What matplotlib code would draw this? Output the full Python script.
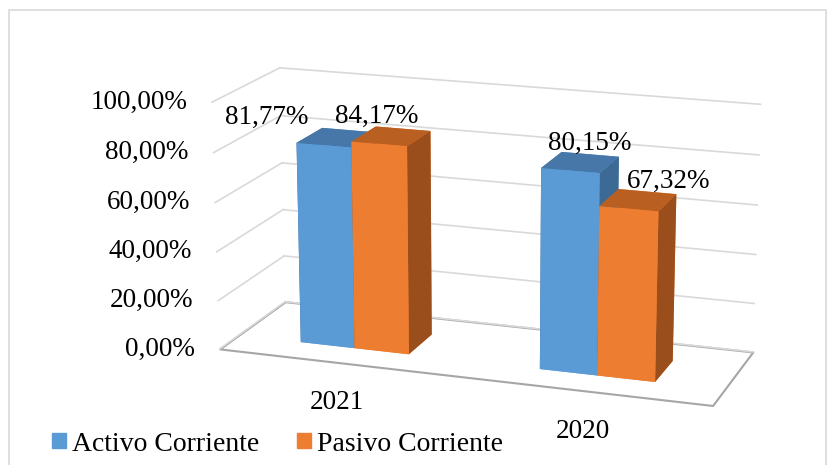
import numpy as np
import matplotlib.pyplot as plt
from matplotlib.patches import Rectangle, Patch
from mpl_toolkits.mplot3d import proj3d
from mpl_toolkits.mplot3d.art3d import Poly3DCollection

plt.rcParams['font.family'] = ['Liberation Serif', 'DejaVu Serif']

# data
years = ['2021', '2020']
activo = [81.77, 80.15]
pasivo = [84.17, 67.32]
series_names = ['Activo Corriente', 'Pasivo Corriente']
ticks = [0, 20, 40, 60, 80, 100]


def pct(v):
    return f'{v:.2f}'.replace('.', ',') + '%'


# colours: front, top, side
blue = ('#5B9BD5', '#4677A8', '#3D6A94')
orange = ('#ED7D31', '#B95F22', '#9A4E1C')
grid_c = '#D9D9D9'
fs = 19.5

fig = plt.figure(figsize=(8.31, 4.65), dpi=100)
ax = fig.add_axes([0.077, -0.005, 1.0, 1.0], projection='3d')
ax.computed_zorder = False
ax.set_proj_type('persp', focal_length=1.0)
ax.view_init(elev=16, azim=-71)
ax.set_xlim(-0.5, 1.5)
ax.set_ylim(0, 1)
ax.set_zlim(0, 100)
ax.set_box_aspect((2, 0.65, 1), zoom=1.25)
ax.set_axis_off()

x0, x1, y0, y1 = -0.5, 1.5, 0.0, 1.0

# floor
floor = Poly3DCollection([[(x0, y0, 0), (x1, y0, 0), (x1, y1, 0), (x0, y1, 0)]],
                         facecolor='white', edgecolor='#A6A6A6', linewidth=1.5,
                         zorder=1, clip_on=False)
ax.add_collection3d(floor)

# wall gridlines
for t in ticks:
    ax.plot([x0, x0], [y0, y1], [t, t], color=grid_c, lw=1.2, zorder=2, clip_on=False)
    ax.plot([x0, x1], [y1, y1], [t, t], color=grid_c, lw=1.2, zorder=2, clip_on=False)

# bars
x = np.arange(len(years))
w = 0.23
by, bd = 0.28, 0.4
xs = np.concatenate([x - w, x])
hs = np.concatenate([activo, pasivo])
face_cols = []
for pal in [blue] * len(years) + [orange] * len(years):
    front, top, side = pal
    # bottom, top, front, back, left, right
    face_cols += [front, top, front, front, side, side]
ax.bar3d(xs, np.full(len(xs), by), np.zeros(len(xs)), w, bd, hs,
         color=face_cols, shade=False, zorder=3, clip_on=False)

fig.canvas.draw()
M = ax.get_proj()


def label(px, py, pz, s, dx, dy, ha, va):
    u, v, _ = proj3d.proj_transform(px, py, pz, M)
    ax.annotate(s, (u, v), xycoords='data', xytext=(dx, dy),
                textcoords='offset pixels', ha=ha, va=va, fontsize=fs, zorder=5,
                annotation_clip=False)


# tick labels on the left wall
for t in ticks:
    label(x0, y0, t, pct(t), -25, 0, 'right', 'center')

# data labels
offsets = [(-57, 15), (19, 15), (-2, 15), (40, 15)]
for xi, h, (dx, dy) in zip(xs, hs, offsets):
    label(xi + w / 2, by, h, pct(h), dx, dy, 'center', 'bottom')

# category labels
for xi, yr in zip(x, years):
    label(xi, y0, 0, yr, 0, -28, 'center', 'top')

handles = [Patch(color=blue[0]), Patch(color=orange[0])]
fig.legend(handles, series_names, loc='center left', bbox_to_anchor=(0.033, 0.045),
           ncol=2, frameon=False, fontsize=20, handlelength=0.48, handleheight=0.48,
           handletextpad=0.22, columnspacing=1.37, borderpad=0.4)

fig.patches.append(Rectangle((9 / 831, -0.1), 817 / 831, 1 - 10 / 465 + 0.1,
                             transform=fig.transFigure, fill=False,
                             edgecolor=grid_c, lw=1.2))

fig.savefig('out.png', dpi=100)
